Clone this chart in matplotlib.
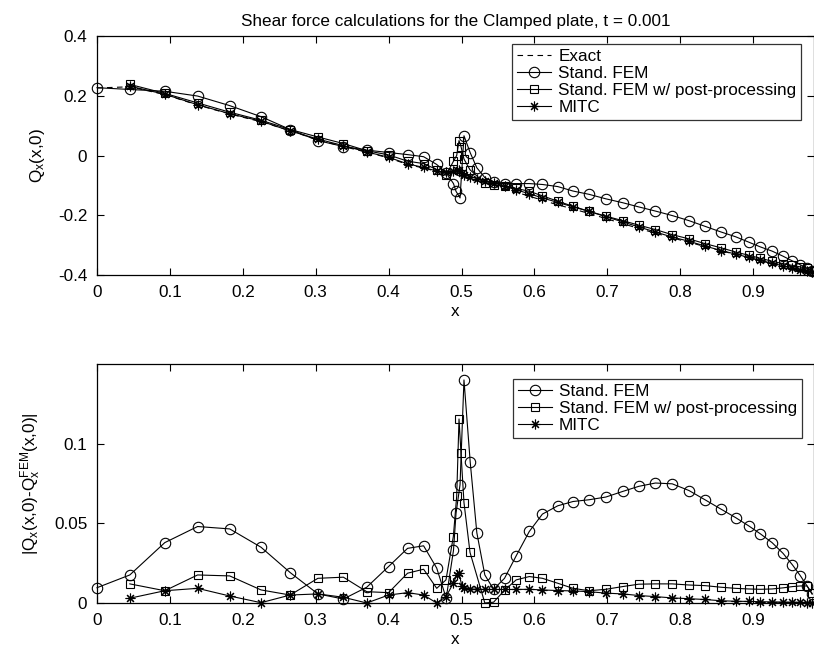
import matplotlib
matplotlib.use("Agg")
import matplotlib.pyplot as plt

plt.rcParams["font.family"] = ["Liberation Sans", "DejaVu Sans"]
plt.rcParams["mathtext.fontset"] = "custom"
plt.rcParams["mathtext.rm"] = "Liberation Sans"
plt.rcParams["mathtext.default"] = "regular"

# ---- data ----
# Stand. FEM (circles) and exact solution share this grid
x_fem = [0.000, 0.045, 0.093, 0.138, 0.182, 0.225, 0.265, 0.303, 0.338, 0.370,
         0.400, 0.426, 0.448, 0.466, 0.479, 0.489, 0.4925, 0.498, 0.5034, 0.512,
         0.521, 0.532, 0.544, 0.559, 0.575, 0.593, 0.611, 0.632, 0.653, 0.675,
         0.698, 0.721, 0.743, 0.766, 0.789, 0.812, 0.834, 0.856, 0.876, 0.894,
         0.910, 0.926, 0.941, 0.954, 0.965, 0.974, 0.981]
q_exact = [0.226, 0.230, 0.204, 0.169, 0.139, 0.113, 0.083, 0.052, 0.030, 0.011,
           -0.008, -0.030, -0.042, -0.053, -0.059, -0.062, -0.064, -0.068, -0.074, -0.079,
           -0.085, -0.092, -0.100, -0.111, -0.123, -0.136, -0.150, -0.165, -0.179, -0.194,
           -0.211, -0.228, -0.244, -0.260, -0.276, -0.290, -0.305, -0.319, -0.331, -0.342,
           -0.352, -0.362, -0.370, -0.377, -0.382, -0.386, -0.390]
q_fem = [0.227, 0.221, 0.215, 0.199, 0.167, 0.130, 0.087, 0.050, 0.030, 0.018,
         0.010, 0.003, -0.004, -0.030, -0.058, -0.094, -0.120, -0.142, 0.066, 0.009,
         -0.041, -0.074, -0.089, -0.094, -0.094, -0.094, -0.097, -0.104, -0.119, -0.130,
         -0.145, -0.158, -0.172, -0.186, -0.201, -0.218, -0.237, -0.256, -0.272, -0.290,
         -0.306, -0.320, -0.337, -0.353, -0.366, -0.377, -0.386]
err_fem = [0.0096, 0.0176, 0.0379, 0.0480, 0.0465, 0.0350, 0.0191, 0.0057, 0.0025, 0.0099,
           0.0229, 0.0343, 0.0359, 0.0219, 0.0030, 0.0330, 0.0563, 0.0743, 0.1400, 0.0882,
           0.0442, 0.0176, 0.0086, 0.0155, 0.0296, 0.0449, 0.0558, 0.0610, 0.0637, 0.0648,
           0.0665, 0.0700, 0.0732, 0.0753, 0.0748, 0.0706, 0.0648, 0.0589, 0.0536, 0.0484,
           0.0434, 0.0379, 0.0312, 0.0239, 0.0170, 0.0107, 0.0055]

# Stand. FEM w/ post-processing (squares)
x_post = [0.045, 0.093, 0.138, 0.182, 0.225, 0.265, 0.303, 0.338, 0.370, 0.400,
          0.426, 0.448, 0.466, 0.4787, 0.4888, 0.4934, 0.4966, 0.4993, 0.5034, 0.5117,
          0.532, 0.544, 0.559, 0.575, 0.593, 0.611, 0.632, 0.653, 0.675, 0.698,
          0.721, 0.743, 0.766, 0.789, 0.812, 0.834, 0.856, 0.876, 0.894, 0.910,
          0.926, 0.941, 0.954, 0.965, 0.974, 0.981]
q_post = [0.238, 0.208, 0.176, 0.145, 0.118, 0.087, 0.062, 0.040, 0.016, 0.002,
          -0.019, -0.027, -0.047, -0.066, -0.020, 0.000, 0.050, 0.030, -0.012, -0.048,
          -0.092, -0.099, -0.103, -0.110, -0.120, -0.135, -0.153, -0.170, -0.187, -0.203,
          -0.218, -0.233, -0.248, -0.265, -0.279, -0.295, -0.309, -0.323, -0.334, -0.344,
          -0.354, -0.362, -0.368, -0.373, -0.378, -0.386]
err_post = [0.0120, 0.0077, 0.0176, 0.0170, 0.0082, 0.0050, 0.0155, 0.0162, 0.0071, 0.0065,
            0.0187, 0.0212, 0.0092, 0.0145, 0.0417, 0.0670, 0.1155, 0.0940, 0.0630, 0.0317,
            0.0000, 0.0005, 0.0080, 0.0145, 0.0166, 0.0155, 0.0124, 0.0092, 0.0077, 0.0086,
            0.0103, 0.0118, 0.0120, 0.0120, 0.0113, 0.0109, 0.0099, 0.0092, 0.0088, 0.0086,
            0.0088, 0.0095, 0.0103, 0.0107, 0.0107, 0.0060]

# MITC (asterisks)
x_mitc = [0.045, 0.093, 0.138, 0.182, 0.225, 0.265, 0.303, 0.338, 0.370, 0.400,
          0.426, 0.448, 0.466, 0.4787, 0.4888, 0.4934, 0.4966, 0.5005, 0.5034, 0.512,
          0.521, 0.532, 0.544, 0.559, 0.575, 0.593, 0.611, 0.632, 0.653, 0.675,
          0.698, 0.721, 0.743, 0.766, 0.789, 0.812, 0.834, 0.856, 0.876, 0.894,
          0.910, 0.926, 0.941, 0.954, 0.965, 0.974, 0.981]
q_mitc = [0.232, 0.205, 0.170, 0.140, 0.115, 0.082, 0.055, 0.033, 0.012, -0.006,
          -0.028, -0.040, -0.052, -0.056, -0.052, -0.047, -0.050, -0.060, -0.066, -0.071,
          -0.077, -0.084, -0.092, -0.103, -0.115, -0.128, -0.142, -0.157, -0.172, -0.187,
          -0.205, -0.222, -0.239, -0.256, -0.273, -0.287, -0.303, -0.318, -0.330, -0.341,
          -0.351, -0.361, -0.369, -0.376, -0.382, -0.386, -0.390]
err_mitc = [0.0030, 0.0077, 0.0092, 0.0044, 0.0002, 0.0050, 0.0057, 0.0036, 0.0000, 0.0050,
            0.0065, 0.0050, 0.0000, 0.0040, 0.0124, 0.0176, 0.0187, 0.0107, 0.0095, 0.0088,
            0.0086, 0.0085, 0.0085, 0.0085, 0.0085, 0.0086, 0.0082, 0.0078, 0.0076, 0.0071,
            0.0062, 0.0057, 0.0047, 0.0040, 0.0032, 0.0027, 0.0022, 0.0014, 0.0011, 0.0010,
            0.0008, 0.0007, 0.0006, 0.0005, 0.0004, 0.0003, 0.0002]

x_ticks = [0, 0.1, 0.2, 0.3, 0.4, 0.5, 0.6, 0.7, 0.8, 0.9]
x_tick_labels = ["0", "0.1", "0.2", "0.3", "0.4", "0.5", "0.6", "0.7", "0.8", "0.9"]

FS = 12.3
W, H = 814, 657
fig = plt.figure(figsize=(W / 100, H / 100), dpi=100)
ax1 = fig.add_axes([97 / W, 1 - 275 / H, (W - 97) / W, 239 / H])
ax2 = fig.add_axes([97 / W, 1 - 603 / H, (W - 97) / W, 239 / H])

circ = dict(color="black", lw=0.8, marker="o", ms=7.5, mfc="none", mec="black", mew=0.8, clip_on=False)
sq = dict(color="black", lw=0.8, marker="s", ms=6.3, mfc="none", mec="black", mew=0.8, clip_on=False)
ast = dict(color="black", lw=0.8, marker=(8, 2, 0), ms=7, mec="black", mew=0.8, clip_on=False)

ax1.plot(x_fem, q_exact, color="black", lw=0.8, ls=(0, (5, 4)), label="Exact")
ax1.plot(x_fem, q_fem, label="Stand. FEM", **circ)
ax1.plot(x_post, q_post, label="Stand. FEM w/ post-processing", **sq)
ax1.plot(x_mitc, q_mitc, label="MITC", **ast)

ax2.plot(x_fem, err_fem, label="Stand. FEM", **circ)
ax2.plot(x_post, err_post, label="Stand. FEM w/ post-processing", **sq)
ax2.plot(x_mitc, err_mitc, label="MITC", **ast)

xmax = (W - 97) / 729
for ax in (ax1, ax2):
    ax.set_xlim(0, xmax)
    ax.set_xticks(x_ticks)
    ax.set_xticklabels(x_tick_labels)
    ax.tick_params(direction="in", top=True, right=True, length=5, width=0.8,
                   labelsize=FS, pad=7, colors="black")
    for s in ax.spines.values():
        s.set_linewidth(0.9)
    ax.set_xlabel("x", fontsize=FS, labelpad=3)

ax1.set_ylim(-0.4, 0.4)
ax1.set_yticks([-0.4, -0.2, 0, 0.2, 0.4])
ax1.set_yticklabels(["-0.4", "-0.2", "0", "0.2", "0.4"])
ax1.set_ylabel("Q$_x$(x,0)", fontsize=FS, labelpad=8)
ax1.set_title("Shear force calculations for the Clamped plate, t = 0.001",
              fontsize=FS, pad=7)

ax2.set_ylim(0, 0.15)
ax2.set_yticks([0, 0.05, 0.1])
ax2.set_yticklabels(["0", "0.05", "0.1"])
ax2.set_ylabel("|Q$_x$(x,0)-Q$_x^{FEM}$(x,0)|", fontsize=FS, labelpad=8)

leg_kw = dict(fontsize=FS, frameon=True, fancybox=False, edgecolor="black",
              handlelength=2.0, handletextpad=0.4, borderpad=0.3,
              labelspacing=0.12, borderaxespad=0)
l1 = ax1.legend(loc="upper left", bbox_to_anchor=((512 - 97) / 729 / xmax, (275 - 44) / 239), **leg_kw)
l1.get_frame().set_linewidth(0.9)
l2 = ax2.legend(loc="upper left", bbox_to_anchor=((513 - 97) / 729 / xmax, (603 - 379) / 239), **leg_kw)
l2.get_frame().set_linewidth(0.9)

fig.savefig("out.png", dpi=100)
